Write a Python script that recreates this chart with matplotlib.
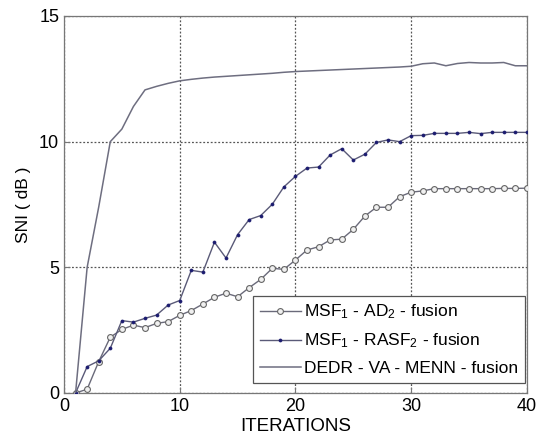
import matplotlib
matplotlib.use("Agg")
import matplotlib.pyplot as plt
import numpy as np

plt.rcParams['font.family'] = ['Liberation Sans', 'DejaVu Sans']
plt.rcParams['mathtext.fontset'] = 'custom'
plt.rcParams['mathtext.rm'] = 'Liberation Sans'
plt.rcParams['mathtext.it'] = 'Liberation Sans'

iterations = list(range(1, 41))

msf_ad = [0.0, 0.15, 1.25, 2.22, 2.53, 2.7, 2.6, 2.77, 2.84, 3.09,
          3.28, 3.54, 3.81, 3.97, 3.83, 4.19, 4.52, 4.96, 4.92, 5.29,
          5.69, 5.82, 6.09, 6.12, 6.51, 7.04, 7.39, 7.39, 7.81, 7.99,
          8.04, 8.13, 8.13, 8.13, 8.13, 8.13, 8.13, 8.14, 8.14, 8.15]

msf_rasf = [0.0, 1.05, 1.28, 1.78, 2.88, 2.82, 2.97, 3.1, 3.5, 3.68,
            4.88, 4.81, 6.0, 5.37, 6.3, 6.9, 7.06, 7.51, 8.2, 8.62,
            8.95, 8.99, 9.47, 9.72, 9.27, 9.5, 9.97, 10.07, 10.0, 10.24,
            10.25, 10.33, 10.33, 10.33, 10.37, 10.32, 10.37, 10.37, 10.37, 10.37]

dedr = [0.0, 5.0, 7.4, 10.0, 10.5, 11.4, 12.06, 12.2, 12.32, 12.42,
        12.48, 12.53, 12.57, 12.6, 12.63, 12.66, 12.69, 12.72, 12.76, 12.79,
        12.81, 12.83, 12.85, 12.87, 12.89, 12.91, 12.93, 12.95, 12.97, 13.0,
        13.1, 13.13, 13.02, 13.11, 13.15, 13.13, 13.13, 13.15, 13.02, 13.02]

labels = [r'MSF$_{\mathregular{1}}$ - AD$_{\mathregular{2}}$ - fusion',
          r'MSF$_{\mathregular{1}}$ - RASF$_{\mathregular{2}}$ - fusion',
          'DEDR - VA - MENN - fusion']

fig = plt.figure(figsize=(5.36, 4.37), dpi=100)
ax = fig.add_axes([0.1194, 0.1007, 0.8636, 0.8627])

ax.plot(iterations, msf_ad, '-o', color='#6a6a7a', lw=1.0, ms=4.2,
        mfc='#f0f0f0', mec='#666666', mew=0.8, label=labels[0], zorder=3)
ax.plot(iterations, msf_rasf, '-o', color='#5a5a78', lw=1.0, ms=2.2,
        mfc='#1c1c70', mec='#1c1c70', mew=0.5, label=labels[1], zorder=3)
ax.plot(iterations, dedr, '-', color='#6e6e80', lw=1.1, label=labels[2], zorder=3)

ax.set_xlim(0, 40)
ax.set_ylim(0, 15)
ax.set_xticks([0, 10, 20, 30, 40])
ax.set_yticks([0, 5, 10, 15])
ax.grid(True, linestyle=(0, (1.5, 1.5)), color='#555555', lw=0.9)
ax.tick_params(direction='in', labelsize=13, length=4, color='#777777')
for s in ax.spines.values():
    s.set_color('#777777')
    s.set_linewidth(0.9)

ax.set_xlabel('ITERATIONS', fontsize=13.5, labelpad=2)
ax.set_ylabel('SNI ( dB )', fontsize=12.5, labelpad=6)

leg = ax.legend(loc='lower right', bbox_to_anchor=(0.9957, 0.0265),
                fontsize=12.5, frameon=True, fancybox=False,
                edgecolor='#555555', framealpha=1, borderaxespad=0,
                handlelength=2.4, handletextpad=0.15, labelspacing=0.6,
                borderpad=0.4, numpoints=1, markerscale=1.0)
leg.get_frame().set_linewidth(0.9)

fig.savefig('out.png', dpi=100)
